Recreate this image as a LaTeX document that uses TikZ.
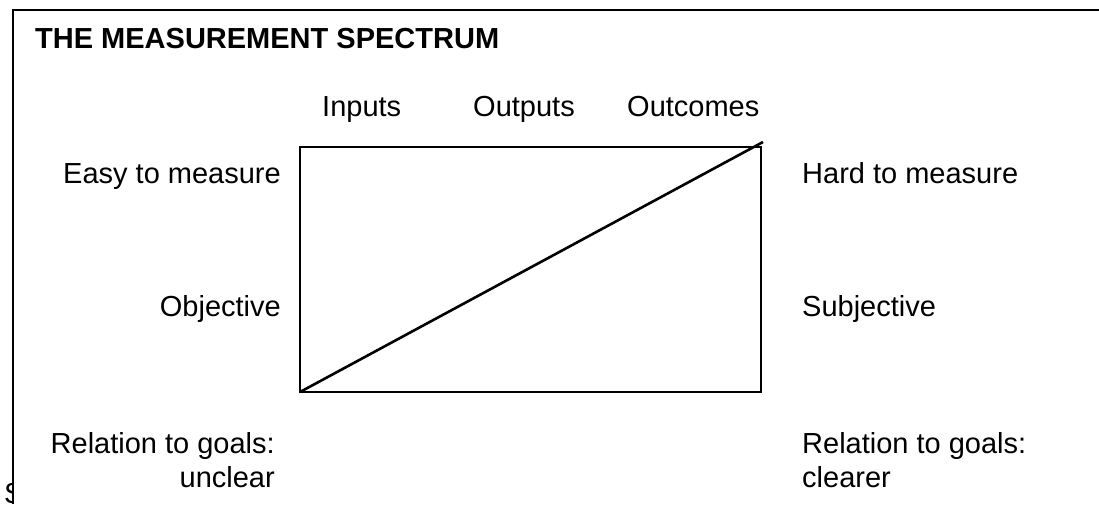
\documentclass[tikz,border=0pt]{standalone}
\usepackage{fontspec}
\setmainfont{Liberation Sans}
\begin{document}
\begin{tikzpicture}[x=1pt,y=-1pt,
  lbl/.style={inner sep=0pt,font=\fontsize{29}{34}\selectfont},
  ttl/.style={inner sep=0pt,font=\fontsize{29}{34}\selectfont\bfseries},
  frame/.style={line width=2pt,black},
  box/.style={line width=2.2pt,black},
  diag/.style={line width=2.6pt,black}]
\useasboundingbox (0,0) rectangle (1099,504);
% outer frame
\coordinate (fbl) at (12.5,504);
\coordinate (ftl) at (12.5,10);
\coordinate (ftr) at (1099,10);
\draw[frame] (fbl) -- (ftl) -- (ftr);
% clipped S
\begin{scope}
\clip (0,0) rectangle (12.5,504);
\node[lbl,anchor=base west] (s) at (4,503) {S};
\end{scope}
% title
\node[ttl,anchor=base west] (title) at (35,48) {THE MEASUREMENT SPECTRUM};
% column labels
\node[lbl,anchor=base west] (inputs) at (322,116) {Inputs};
\node[lbl,anchor=base west] (outputs) at (473,116) {Outputs};
\node[lbl,anchor=base west] (outcomes) at (627,116) {Outcomes};
% box
\coordinate (bl) at (300,392);
\coordinate (tr) at (761,147);
\coordinate (dend) at (763,142);
\draw[box] (bl) rectangle (tr);
\draw[diag] (bl) -- (dend);
% side labels
\node[lbl,anchor=base east] (easy) at (281,183) {Easy to measure};
\node[lbl,anchor=base west] (hard) at (802,183) {Hard to measure};
\node[lbl,anchor=base east] (obj) at (281,316) {Objective};
\node[lbl,anchor=base west] (subj) at (802,316) {Subjective};
\node[lbl,anchor=base east] (rel1) at (275,453) {Relation to goals:};
\node[lbl,anchor=base east] (unc) at (275,487) {unclear};
\node[lbl,anchor=base west] (rel2) at (802,453) {Relation to goals:};
\node[lbl,anchor=base west] (clr) at (802,487) {clearer};
\end{tikzpicture}
\end{document}
